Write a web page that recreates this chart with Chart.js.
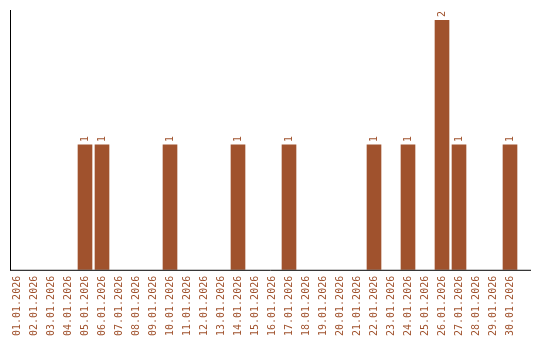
<!DOCTYPE html>
<html><head><meta charset="utf-8">
<script src="https://cdn.jsdelivr.net/npm/chart.js@4/dist/chart.umd.min.js"></script>
<style>html,body{margin:0;padding:0;background:#fff}#wrap{width:540px;height:340px}</style>
</head><body><div id="wrap"><canvas id="c"></canvas></div>
<script>
const categories = ["01.01.2026","02.01.2026","03.01.2026","04.01.2026","05.01.2026","06.01.2026","07.01.2026","08.01.2026","09.01.2026","10.01.2026","11.01.2026","12.01.2026","13.01.2026","14.01.2026","15.01.2026","16.01.2026","17.01.2026","18.01.2026","19.01.2026","20.01.2026","21.01.2026","22.01.2026","23.01.2026","24.01.2026","25.01.2026","26.01.2026","27.01.2026","28.01.2026","29.01.2026","30.01.2026"];
const counts = [0,0,0,0,1,1,0,0,0,1,0,0,0,1,0,0,1,0,0,0,0,1,0,1,0,2,1,0,0,1];
const yMax = 2;

const BROWN = '#a0522d';
const FONT = {family: '"DejaVu Sans Mono", monospace', size: 10};

const overlay = {
  id: 'overlay',
  afterDatasetsDraw(chart) {
    const ctx = chart.ctx, a = chart.chartArea;
    const meta = chart.getDatasetMeta(0);
    ctx.save();
    ctx.fillStyle = BROWN;
    ctx.font = '10px "DejaVu Sans Mono", monospace';
    ctx.textAlign = 'left';
    ctx.textBaseline = 'middle';
    meta.data.forEach((bar, i) => {
      const v = counts[i];
      if (!v) return;
      ctx.save();
      ctx.translate(bar.x, bar.y - 3);
      ctx.rotate(-Math.PI / 2);
      ctx.fillText(String(v), 0, 0);
      ctx.restore();
    });
    ctx.strokeStyle = '#000';
    ctx.lineWidth = 1;
    ctx.beginPath();
    ctx.moveTo(10.5, a.top - 10);
    ctx.lineTo(10.5, a.bottom + 0.5);
    ctx.moveTo(10, a.bottom + 0.5);
    ctx.lineTo(531, a.bottom + 0.5);
    ctx.stroke();
    ctx.restore();
  }
};

new Chart(document.getElementById('c'), {
  type: 'bar',
  data: {labels: categories, datasets: [{data: counts.map(v => v === 0 ? null : v), backgroundColor: BROWN, barThickness: 14}]},
  options: {
    responsive: true, maintainAspectRatio: false, animation: false,
    layout: {padding: {left: 8.5, right: 21.5, top: 20, bottom: -2}},
    plugins: {legend: {display: false}, tooltip: {enabled: false}},
    scales: {
      x: {
        grid: {display: false, drawTicks: false},
        border: {display: false},
        ticks: {color: BROWN, font: FONT, minRotation: 90, maxRotation: 90, padding: 6, autoSkip: false}
      },
      y: {display: false, min: 0, max: yMax}
    }
  },
  plugins: [overlay]
});
</script></body></html>
